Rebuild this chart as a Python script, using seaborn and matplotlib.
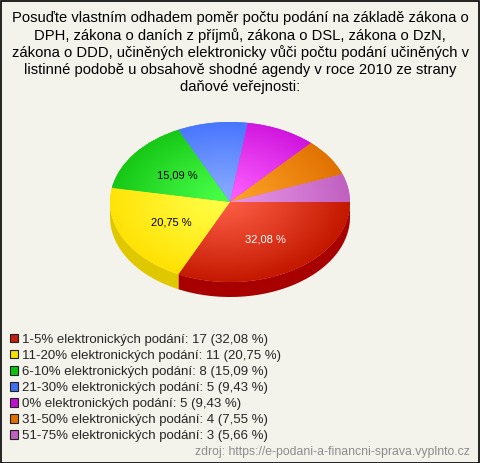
import numpy as np
import matplotlib
matplotlib.use("Agg")
import matplotlib.pyplot as plt
from matplotlib.patches import Patch, Rectangle, Polygon
import seaborn as sns

categories = ["1-5% elektronických podání", "11-20% elektronických podání",
              "6-10% elektronických podání", "21-30% elektronických podání",
              "0% elektronických podání", "31-50% elektronických podání",
              "51-75% elektronických podání"]
counts = [17, 11, 8, 5, 5, 4, 3]
percents = ["32,08", "20,75", "15,09", "9,43", "9,43", "7,55", "5,66"]
title = ("Posuďte vlastním odhadem poměr počtu podání na základě zákona o\n"
         "DPH, zákona o daních z příjmů, zákona o DSL, zákona o DzN,\n"
         "zákona o DDD, učiněných elektronicky vůči počtu podání učiněných v\n"
         "listinné podobě u obsahově shodné agendy v roce 2010 ze strany\n"
         "daňové veřejnosti:")
source = "zdroj: https://e-podani-a-financni-sprava.vyplnto.cz"

light = ["#ff6048", "#ffff48", "#48ff48", "#88aaff", "#ff60ff", "#ffa428", "#ea98ea"]
dark = ["#c41800", "#ffe000", "#10c010", "#4070ff", "#cc10dc", "#e07000", "#c060c0"]
side = ["#a80000", "#e0c800", "#109a10", "#3050c0", "#9a10a8", "#b05800", "#985098"]
legend_colors = ["#c42010", "#f4e000", "#10c010", "#4070f0", "#c010d0", "#e07000", "#c060c0"]

sns.set_theme(style="white")
bg = "#f4f3eb"
plt.rcParams["font.family"] = ["Liberation Sans", "DejaVu Sans"]

W, H = 480, 463
fig = plt.figure(figsize=(W / 100, H / 100), dpi=100, facecolor=bg)

cx, cy, rx, ry, depth = 230, 202, 120, 80, 15
left_px, right_px, top_px, bot_px = 100, 360, 110, 312
ax = fig.add_axes([left_px / W, 1 - bot_px / H, (right_px - left_px) / W, (bot_px - top_px) / H])
ax.set_facecolor(bg)

total = sum(counts)
autotexts_fmt = lambda p: (f"{p:.2f} %".replace(".", ",") if p > 12 else "")
wedges, texts, autotexts = ax.pie(counts, startangle=0, counterclock=False, radius=1,
                                  colors=dark, autopct=autotexts_fmt, pctdistance=0.55,
                                  wedgeprops=dict(linewidth=0), textprops=dict(fontsize=8))
d = depth / ry

# side (3D depth) for the front half
cum = np.cumsum([0] + counts) / total * 360
for i in range(len(counts)):
    a0, a1 = -cum[i], -cum[i + 1]   # math angles, going clockwise
    lo, hi = max(a1, -180), min(a0, 0)
    if lo < hi:
        t = np.radians(np.linspace(hi, lo, 80))
        top = np.column_stack([np.cos(t), np.sin(t)])
        bottom = np.column_stack([np.cos(t[::-1]), np.sin(t[::-1]) - d])
        ax.add_patch(Polygon(np.vstack([top, bottom]), closed=True, facecolor=side[i],
                             edgecolor="none", zorder=0.5))

# gradient on the top surface
n = 300
xs = np.linspace(-1.05, 1.05, n)
ys = np.linspace(-1.05, 1.05, n)
X, Y = np.meshgrid(xs, ys)
R = np.clip(np.hypot(X + 0.05, Y - 0.05) / 1.05, 0, 1)
for i, w in enumerate(wedges):
    c0 = np.array(matplotlib.colors.to_rgb(light[i]))
    c1 = np.array(matplotlib.colors.to_rgb(dark[i]))
    f = R[..., None] ** 1.1
    img = c0 * (1 - f) + c1 * f
    im = ax.imshow(img, extent=[-1.05, 1.05, -1.05, 1.05], origin="lower",
                   aspect="auto", zorder=1, interpolation="bilinear")
    im.set_clip_path(w)
    w.set_zorder(0.9)

for i, t in enumerate(autotexts):
    t.set_color("white" if i == 0 else "black")
    t.set_zorder(3)

ax.set_aspect("auto")
ax.set_xlim((left_px - cx) / rx, (right_px - cx) / rx)
ax.set_ylim(-(bot_px - cy) / ry, (cy - top_px) / ry)
ax.axis("off")

fig.text(0.5, 1 - 11 / H, title, ha="center", va="top", fontsize=10.6,
         multialignment="center", linespacing=1.23, color="#000000")

handles = [Patch(facecolor=c, edgecolor="#202020", linewidth=0.8) for c in legend_colors]
labels = [f"{c}: {n} ({p} %)" for c, n, p in zip(categories, counts, percents)]
fig.legend(handles, labels, loc="upper left", bbox_to_anchor=(7 / W, 1 - 331 / H),
           frameon=False, fontsize=9.57, handlelength=0.62, handleheight=0.62,
           handletextpad=0.3, labelspacing=0.31, borderaxespad=0, borderpad=0.2)

fig.text(1 - 10 / W, 1 - 452 / H, source, ha="right", va="center", fontsize=8.8,
         color="#8c8c8c")

fig.patches.append(Rectangle((0.5 / W, 0.5 / H), 1 - 1.5 / W, 1 - 1.5 / H,
                             transform=fig.transFigure, fill=False,
                             edgecolor="black", linewidth=1.2))

fig.savefig("out.png", dpi=100, facecolor=bg)
